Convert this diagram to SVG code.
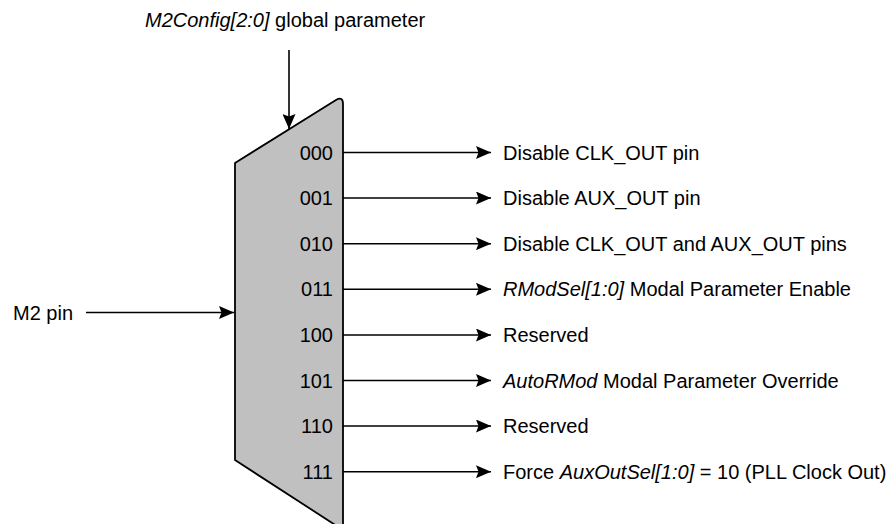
<svg xmlns="http://www.w3.org/2000/svg" width="895" height="524" viewBox="0 0 895 524">
<style>
text{font-family:"Liberation Sans",Arial,sans-serif;font-size:20px;fill:#000}
.i{font-style:italic}
.num{text-anchor:end}
.c{stroke:#000;stroke-width:1.6;fill:none}
</style>
<defs>
<marker id="ah" viewBox="0 0 15 13" refX="15" refY="6.5" markerWidth="15" markerHeight="13" markerUnits="userSpaceOnUse" orient="auto">
<path d="M0,0 L15,6.5 L0,13 L2.5,6.5 Z" fill="#000"/>
</marker>
</defs>
<rect width="895" height="524" fill="#fff"/>
<g id="mux">
<path d="M235,163 L336,100 Q343,96 343,104 L343,530 L235,460 Z" fill="#c0c0c0" stroke="#000" stroke-width="1.8" stroke-linejoin="round"/>
<text class="num" x="333" y="159.5">000</text>
<text class="num" x="333" y="205">001</text>
<text class="num" x="333" y="250.7">010</text>
<text class="num" x="333" y="296.3">011</text>
<text class="num" x="333" y="342">100</text>
<text class="num" x="333" y="387.5">101</text>
<text class="num" x="333" y="433">110</text>
<text class="num" x="333" y="478.7">111</text>
</g>
<g id="top-label"><text x="145" y="27"><tspan class="i">M2Config[2:0]</tspan> global parameter</text></g>
<g id="m2pin"><text x="13" y="319.5">M2 pin</text></g>
<g id="out0"><text x="503" y="159.5">Disable CLK_OUT pin</text></g>
<g id="out1"><text x="503" y="205">Disable AUX_OUT pin</text></g>
<g id="out2"><text x="503" y="250.7">Disable CLK_OUT and AUX_OUT pins</text></g>
<g id="out3"><text x="503" y="296.3"><tspan class="i">RModSel[1:0]</tspan> Modal Parameter Enable</text></g>
<g id="out4"><text x="503" y="342">Reserved</text></g>
<g id="out5"><text x="503" y="387.5"><tspan class="i">AutoRMod</tspan> Modal Parameter Override</text></g>
<g id="out6"><text x="503" y="433">Reserved</text></g>
<g id="out7"><text x="503" y="478.7">Force <tspan class="i">AuxOutSel[1:0]</tspan> = 10 (PLL Clock Out)</text></g>
<g id="connectors">
<line class="c" x1="289" y1="50" x2="289" y2="129" marker-end="url(#ah)"/>
<line class="c" x1="86" y1="312.5" x2="234" y2="312.5" marker-end="url(#ah)"/>
<line class="c" x1="343" y1="152.5" x2="491" y2="152.5" marker-end="url(#ah)"/>
<line class="c" x1="343" y1="198" x2="491" y2="198" marker-end="url(#ah)"/>
<line class="c" x1="343" y1="243.7" x2="491" y2="243.7" marker-end="url(#ah)"/>
<line class="c" x1="343" y1="289.3" x2="491" y2="289.3" marker-end="url(#ah)"/>
<line class="c" x1="343" y1="335" x2="491" y2="335" marker-end="url(#ah)"/>
<line class="c" x1="343" y1="380.5" x2="491" y2="380.5" marker-end="url(#ah)"/>
<line class="c" x1="343" y1="426" x2="491" y2="426" marker-end="url(#ah)"/>
<line class="c" x1="343" y1="471.7" x2="491" y2="471.7" marker-end="url(#ah)"/>
</g>
</svg>
